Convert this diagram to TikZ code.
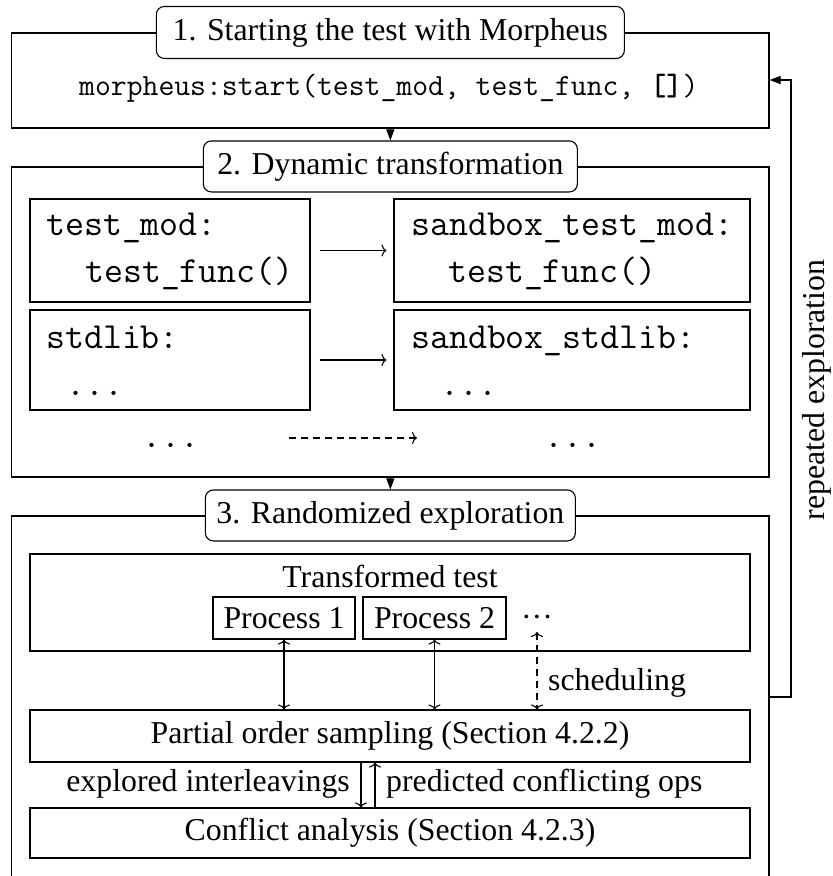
\documentclass[tikz,border=0pt]{standalone}
\usepackage{fontspec}
\setmainfont{Liberation Serif}
\usetikzlibrary{arrows.meta}
\begin{document}
\begin{tikzpicture}[x=1pt,y=-1pt,
  frame/.style={draw, line width=1.1pt, inner sep=0pt, minimum width=757.3pt},
  title/.style={draw, fill=white, rounded corners=8pt, line width=1.1pt, inner sep=0pt,
    font=\fontsize{31.8pt}{38pt}\selectfont},
  box/.style={draw, line width=1.1pt, inner sep=0pt},
  code/.style={inner sep=0pt, font=\ttfamily\fontsize{36.8pt}{40pt}\selectfont},
  lbl/.style={inner sep=0pt, font=\fontsize{31.8pt}{38pt}\selectfont},
  sect/.style={-{Triangle[length=11pt,width=8pt]}, line width=1.1pt},
  flow/.style={-{To[length=5pt,width=12pt]}, line width=1.1pt},
  both/.style={{To[length=5pt,width=12pt]}-{To[length=5pt,width=12pt]}, line width=1.1pt},
]
\useasboundingbox (0,0) rectangle (833,876);
\clip (0,0) rectangle (833,876);

% --- stage 1 ---------------------------------------------------------
\node[frame, minimum height=95pt] (f1) at (390.35,80.5) {};
\node[code, anchor=base west, font=\ttfamily\fontsize{30.8pt}{36pt}\selectfont]
  (call) at (79,95) {morpheus:start(test\_mod, test\_func, \textbf{[]})};
\node[title, minimum width=468pt, minimum height=52pt] (t1) at (f1.north)
  {1. Starting the test with Morpheus};

% --- stage 2 ---------------------------------------------------------
\node[frame, minimum height=310pt] (f2) at (390.35,322) {};
\node[title, minimum width=374pt, minimum height=51pt] (t2) at (f2.north)
  {2. Dynamic transformation};

\node[box, minimum width=280pt, minimum height=103pt] (m1) at (170,250.5) {};
\node[box, minimum width=356pt, minimum height=103pt] (s1) at (572,250.5) {};
\node[box, minimum width=280pt, minimum height=100pt] (m2) at (170,360) {};
\node[box, minimum width=356pt, minimum height=100pt] (s2) at (572,360) {};

\node[code, anchor=base west] (m1a) at (46,235) {test\_mod:};
\node[code, anchor=base west] (m1b) at (85,282) {test\_func()};
\node[code, anchor=base west] (s1a) at (411,235) {sandbox\_test\_mod:};
\node[code, anchor=base west] (s1b) at (448,282) {test\_func()};
\node[code, anchor=base west] (m2a) at (46,348) {stdlib:};
\node[code, anchor=base west] (m2b) at (66,395) {...};
\node[code, anchor=base west] (s2a) at (411,348) {sandbox\_stdlib:};
\node[code, anchor=base west] (s2b) at (440,395) {...};

\node[code, anchor=base] (dl) at (171,447) {...};
\node[code, anchor=base] (dr) at (573,447) {...};
\coordinate (ds) at (289,438);
\coordinate (de) at (417,438);

\draw[flow, shorten <=9pt, shorten >=7pt] (m1.east) -- (s1.west);
\draw[flow, shorten <=9pt, shorten >=7pt] (m2.east) -- (s2.west);
\draw[flow, dash pattern=on 7pt off 5pt] (ds) -- (de);

% --- stage 3 ---------------------------------------------------------
\node[frame, minimum height=380pt] (f3) at (390.35,706) {};
\node[title, minimum width=370pt, minimum height=51pt] (t3) at (f3.north)
  {3. Randomized exploration};

\node[box, minimum width=720pt, minimum height=97pt] (tt) at (390,602.5) {};
\node[lbl, anchor=base] (ttl) at (390,587) {Transformed test};
\node[box, lbl, minimum width=142pt, minimum height=42pt] (p1) at (284,618) {Process 1};
\node[box, lbl, minimum width=143pt, minimum height=42pt] (p2) at (434.5,618) {Process 2};
\node[lbl, anchor=base] (pd) at (537,627) {···};
\coordinate (pdb) at (537,632);

\node[box, lbl, minimum width=720pt, minimum height=52pt] (pos) at (390,736)
  {Partial order sampling (Section 4.2.2)};
\node[box, lbl, minimum width=720pt, minimum height=50pt] (ca) at (390,833)
  {Conflict analysis (Section 4.2.3)};

\draw[both] (p1.south) -- (p1.south |- pos.north);
\draw[both] (p2.south) -- (p2.south |- pos.north);
\draw[both, dash pattern=on 7pt off 5pt] (pdb) -- (pdb |- pos.north);
\node[lbl, anchor=base west] (sch) at (548,690) {scheduling};

\draw[flow] (pos.south -| 361,0) -- (ca.north -| 361,0);
\draw[flow] (ca.north -| 375,0) -- (pos.south -| 375,0);
\node[lbl, anchor=base east] (exl) at (350,791) {explored interleavings};
\node[lbl, anchor=base west] (prl) at (386,791) {predicted conflicting ops};

% --- stage 3 back to stage 1 -----------------------------------------
\draw[sect] (f3.east |- 0,697) -- (791,697) |- (f1.east |- 0,80);
\node[lbl, rotate=90] (rep) at (817,390) {repeated exploration};

% stages in sequence
\draw[sect] (f1.south) -- (t2.north);
\draw[sect] (f2.south) -- (t3.north);
\end{tikzpicture}
\end{document}
